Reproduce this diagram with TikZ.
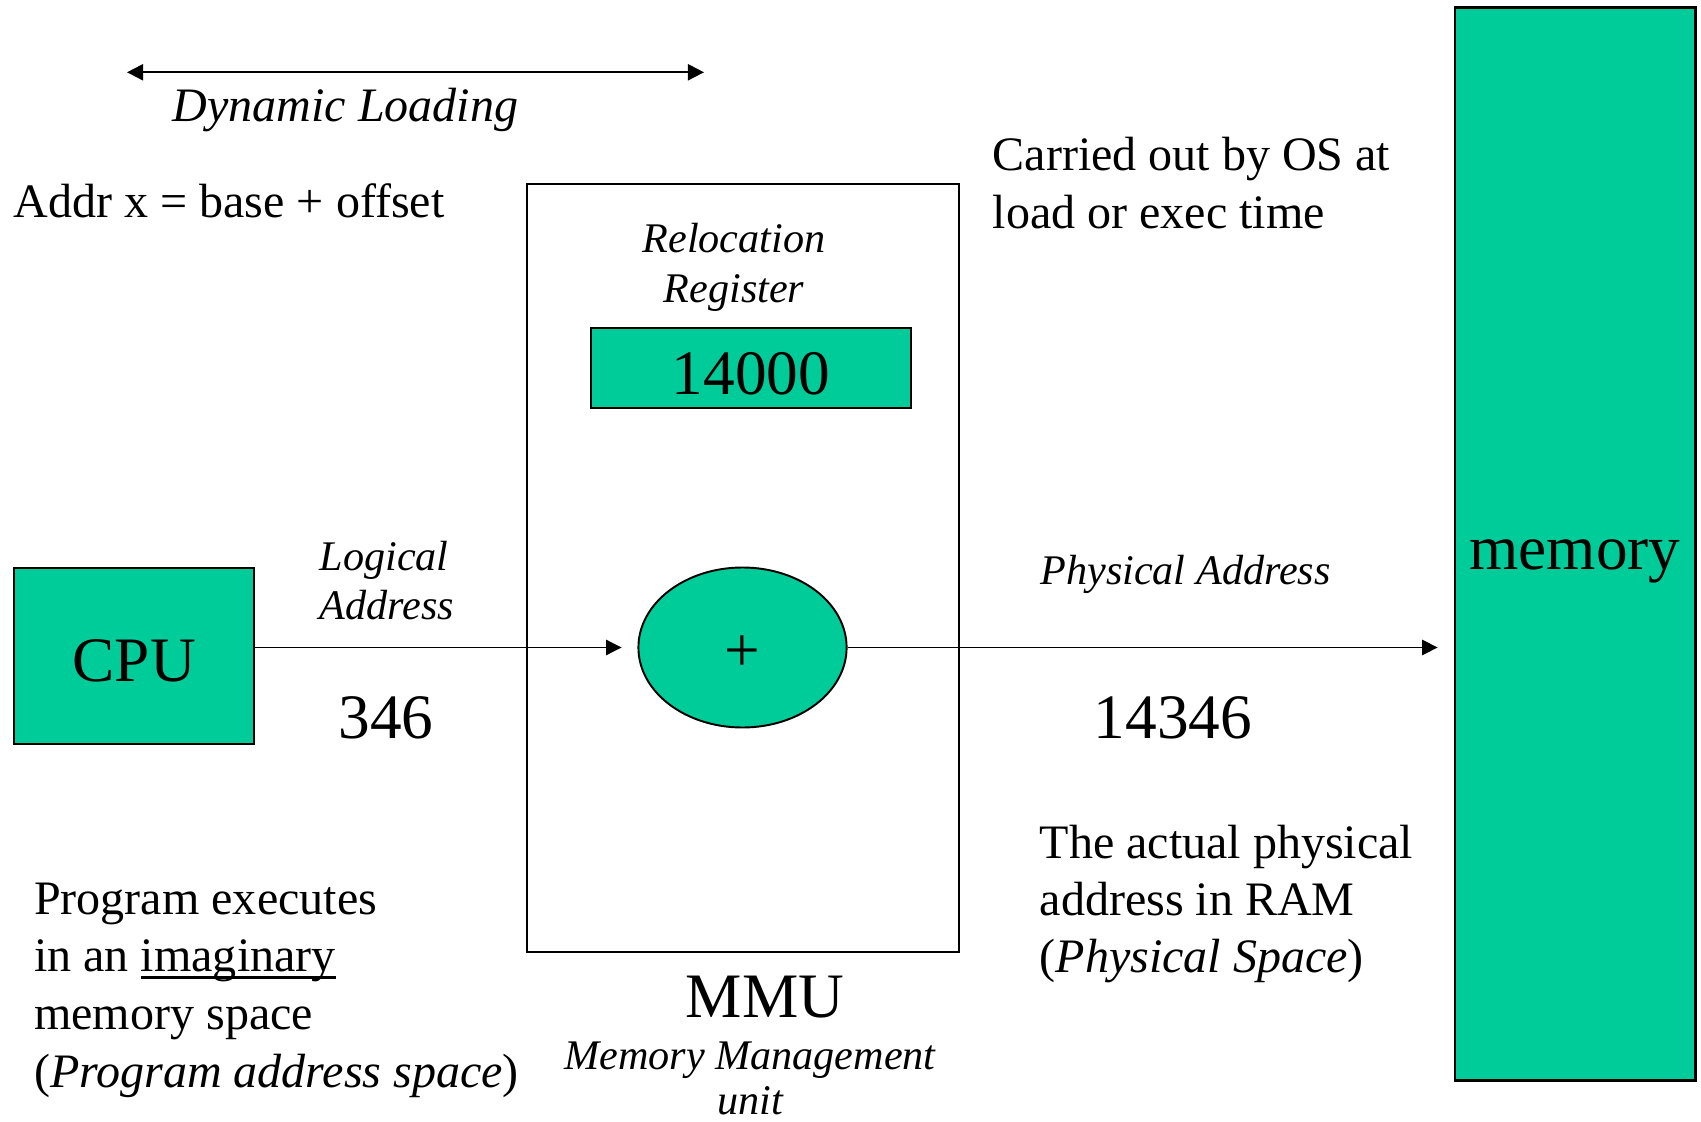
\documentclass[tikz,border=0pt]{standalone}
\usepackage{fontspec}
\setmainfont{Liberation Serif}
\usetikzlibrary{arrows.meta,shapes.geometric}

\definecolor{boxgreen}{RGB}{0,204,153}

% stacked lines with a fixed baseline distance; the box baseline is the first line's
\newcommand\linestack[2]{\vtop{\baselineskip=#1\relax\lineskiplimit=-\maxdimen #2}}
\newcommand\midline[1]{\hbox to 0pt{\hss #1\hss}}
% underline placed just below the baseline
\newcommand\ulword[1]{\setbox0\hbox{#1}\rlap{\rule[-1.9pt]{\wd0}{0.6pt}}\box0}

\tikzset{
  body/.style={inner sep=0pt, font=\fontsize{13.66pt}{16.2pt}\selectfont},
  lab/.style={inner sep=0pt, font=\fontsize{12pt}{14pt}\selectfont\itshape},
  big/.style={inner sep=0pt, font=\fontsize{18pt}{21pt}\selectfont},
  greenbox/.style={draw=black, fill=boxgreen, line width=0.55pt, inner sep=0pt,
    text height=14.8pt, text depth=0pt, font=\fontsize{18pt}{21pt}\selectfont},
  flow/.style={line width=0.55pt, -{Triangle[length=4.4pt,width=4.3pt]}, shorten >=4.5pt},
}

\begin{document}
\begin{tikzpicture}[x=0.01cm, y=-0.01cm]
\useasboundingbox (0,0) rectangle (1701,1122);

% dynamic loading span
\coordinate (dlL) at (127,72.3);
\coordinate (dlR) at (704,72.3);
\draw[line width=0.55pt, {Triangle[length=4.6pt,width=4.6pt]}-{Triangle[length=4.6pt,width=4.6pt]}] (dlL) -- (dlR);
\node[body, font=\fontsize{13.66pt}{16.2pt}\selectfont\itshape, anchor=base] (dyn) at (345.5,122) {Dynamic Loading};

\node[body, anchor=base west] (addr) at (13,218) {Addr x = base + offset};

\node[body, anchor=base west] (os) at (992,171)
  {\linestack{16.25pt}{\hbox{Carried out by OS at}\hbox{load or exec time}}};

% memory management unit
\node[draw=black, line width=0.55pt, minimum width=122.9pt, minimum height=218.4pt, inner sep=0pt] (mmu) at (743,567.8) {};
\node[lab, anchor=base] (relo) at (734,253)
  {\linestack{14.2pt}{\midline{Relocation}\midline{Register}}};
\node[greenbox, minimum width=91.05pt, minimum height=22.76pt] (reg) at (751,368) {14000};
\node[ellipse, draw=black, fill=boxgreen, line width=0.55pt, minimum width=59.2pt, minimum height=45.5pt,
      inner sep=0pt, text height=13.5pt, text depth=0pt,
      font=\fontsize{18pt}{21pt}\selectfont] (plus) at (742.5,647.5) {+};

\node[big, anchor=base] (mmulabel) at (765,1017) {MMU};
\node[lab, anchor=base] (mmuname) at (750,1069)
  {\linestack{12.9pt}{\midline{Memory Management}\midline{unit}}};

% processor
\node[greenbox, minimum width=68.2pt, minimum height=50.2pt] (cpu) at (134.2,655.9) {CPU};
\node[lab, anchor=base west] (logical) at (319,570)
  {\linestack{13.95pt}{\hbox{Logical}\hbox{Address}}};
\node[big, anchor=base] (laddr) at (386,738) {346};

% physical memory
\node[greenbox, line width=0.8pt, minimum width=68.3pt, minimum height=305.2pt] (mem) at (1575,543.8) {memory};
\node[lab, anchor=base] (phys) at (1185.5,584) {Physical Address};
\node[big, anchor=base] (paddr) at (1173,738) {14346};

% address flow
\draw[flow] (cpu.east |- plus.west) -- (plus.west);
\draw[flow] (plus.east) -- (plus -| mem.west);

% notes
\node[body, anchor=base west] (prog) at (33.5,914)
  {\linestack{16.45pt}{\hbox{Program executes}\hbox{in an \ulword{imaginary}}\hbox{memory space}\hbox{(\textit{Program address space})}}};
\node[body, anchor=base west] (ram) at (1039,858.3)
  {\linestack{16.3pt}{\hbox{The actual physical}\hbox{address in RAM}\hbox{(\textit{Physical Space})}}};
\end{tikzpicture}
\end{document}
